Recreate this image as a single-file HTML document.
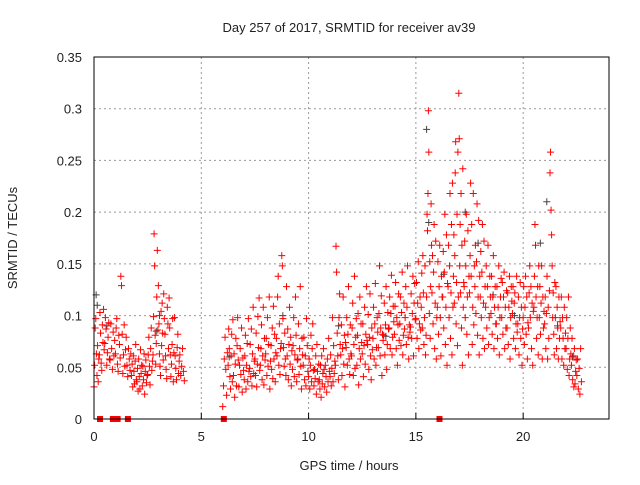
<!DOCTYPE html>
<html><head><meta charset="utf-8"><style>
body{margin:0;background:#fff;}
svg text{font-family:"Liberation Sans",sans-serif;fill:#222;}
</style></head><body>
<svg id="chart" width="640" height="480" xmlns="http://www.w3.org/2000/svg">
<rect width="640" height="480" fill="#fff"/>
<text x="349" y="32" font-size="13" text-anchor="middle">Day 257 of 2017, SRMTID for receiver av39</text>
<text x="349" y="470" font-size="13" text-anchor="middle">GPS time / hours</text>
<text x="0" y="0" font-size="13" text-anchor="middle" transform="translate(17,238) rotate(-90)">SRMTID / TECUs</text>
<g id="grid"></g><g id="ticks"></g><g id="gray"></g><g id="red"></g><g id="gaps"></g>
<rect x="94" y="57" width="515" height="362" fill="none" stroke="#000" stroke-width="1"/>
</svg>
<script>
const xTicks=[0,5,10,15,20];
const yTicks=[0,0.05,0.1,0.15,0.2,0.25,0.3,0.35];
const yTickLabels=["0","0.05","0.1","0.15","0.2","0.25","0.3","0.35"];
const binHours=[0,0.25,0.5,0.75,1,1.25,1.5,1.75,2,2.25,2.5,2.75,3,3.25,3.5,3.75,4,
6,6.25,6.5,6.75,7,7.25,7.5,7.75,8,8.25,8.5,8.75,9,9.25,9.5,9.75,10,10.25,10.5,10.75,11,11.25,11.5,11.75,12,12.25,12.5,12.75,13,13.25,13.5,13.75,14,14.25,14.5,14.75,15,15.25,15.5,15.75,16,16.25,16.5,16.75,17,17.25,17.5,17.75,18,18.25,18.5,18.75,19,19.25,19.5,19.75,20,20.25,20.5,20.75,21,21.25,21.5,21.75,22,22.25,22.5];
const binValues=[
[.031,.052,.088,.097,.063,.042,.071,.036,.058],[.062,.103,.083,.054,.047,.091,.074,.106,.067],[.073,.098,.087,.052,.064,.079,.093,.058],[.057,.092,.068,.048,.084,.061,.076],
[.063,.088,.097,.053,.046,.081,.072,.059],[.138,.129,.082,.044,.062,.091,.051,.067],[.079,.052,.041,.068,.058,.047,.063],[.042,.053,.031,.061,.046,.034,.056,.072,.038],
[.036,.049,.027,.058,.041,.029,.067,.044,.052],[.032,.051,.038,.063,.024,.046,.057,.035,.042],[.043,.062,.079,.051,.033,.068,.088,.047,.056],
[.062,.099,.179,.148,.081,.053,.073,.118,.163,.086],[.129,.092,.063,.051,.042,.104,.071,.112,.083,.057],[.121,.097,.082,.061,.048,.039,.108,.092,.068],
[.117,.088,.062,.041,.053,.072,.097,.036,.064],[.098,.061,.049,.038,.069,.082,.044,.056],[.062,.042,.051,.068,.046,.037],
[.012,.032,.058,.079,.048,.023,.064],[.052,.087,.068,.041,.029,.061,.082,.036,.096],[.042,.063,.021,.053,.078,.032,.071,.098,.057],[.031,.052,.068,.043,.088,.026,.059,.047],
[.038,.061,.081,.029,.052,.073,.036,.097,.046],[.049,.072,.041,.087,.032,.063,.108,.044,.056],[.058,.042,.083,.031,.053,.099,.069,.117,.047],[.052,.068,.091,.038,.061,.108,.033,.078,.057],
[.063,.078,.042,.098,.051,.072,.118,.029,.056],[.071,.048,.088,.039,.109,.058,.082,.036,.064],[.078,.061,.118,.138,.052,.092,.043,.068,.073],[.158,.148,.097,.069,.051,.083,.058,.042,.128],
[.061,.087,.038,.072,.108,.053,.079,.032,.066],[.048,.071,.098,.041,.062,.118,.081,.036,.057],[.058,.092,.043,.068,.128,.051,.029,.078,.062],[.052,.079,.038,.061,.032,.097,.071,.046],
[.041,.058,.029,.052,.081,.036,.068,.092,.047],[.032,.048,.039,.061,.024,.072,.046,.036,.053],[.038,.029,.052,.021,.061,.034,.044,.068,.048],[.031,.052,.041,.026,.058,.036,.078,.046],
[.041,.062,.032,.049,.098,.036,.071,.044,.056],[.052,.167,.142,.083,.061,.038,.098,.121,.072],[.062,.091,.042,.068,.118,.053,.081,.031,.074],[.069,.098,.052,.082,.128,.058,.043,.091,.063],
[.061,.088,.112,.042,.072,.138,.049,.079,.097],[.052,.081,.102,.033,.068,.118,.058,.092,.074],[.063,.092,.041,.071,.108,.053,.082,.128,.076],[.072,.101,.048,.079,.121,.061,.038,.088,.067],
[.078,.108,.058,.092,.131,.052,.069,.098,.084],[.069,.102,.148,.061,.088,.119,.042,.082,.076],[.081,.112,.062,.091,.128,.048,.072,.103,.087],[.088,.118,.068,.102,.139,.062,.079,.109,.094],
[.082,.109,.132,.068,.098,.052,.091,.121,.076],[.092,.118,.071,.103,.142,.062,.081,.112,.087],[.098,.128,.072,.108,.148,.079,.058,.091,.084],[.089,.121,.078,.102,.138,.061,.112,.131,.096],
[.097,.132,.078,.112,.152,.068,.092,.118,.086],[.108,.141,.088,.158,.122,.072,.098,.148,.062,.081],[.118,.198,.182,.218,.298,.258,.102,.152,.078,.128,.208,.168],[.122,.158,.092,.142,.188,.068,.112,.172,.058,.098],
[.108,.152,.082,.128,.168,.098,.061,.138,.118],[.118,.162,.088,.142,.198,.072,.108,.178,.052,.131],[.128,.168,.098,.148,.218,.078,.122,.188,.062,.228,.108],[.138,.178,.112,.158,.238,.268,.092,.132,.198,.071,.258,.118],
[.315,.271,.148,.188,.122,.218,.088,.168,.052,.242,.108,.132],[.128,.172,.098,.148,.198,.082,.118,.182,.062,.138],[.122,.158,.228,.138,.188,.072,.108,.218,.091,.148],[.128,.168,.102,.152,.208,.081,.118,.192,.062,.138],
[.118,.162,.098,.142,.188,.078,.112,.172,.068,.128],[.108,.148,.088,.128,.168,.072,.098,.138,.118],[.102,.138,.082,.118,.158,.068,.108,.128,.092],[.092,.128,.078,.108,.148,.062,.098,.118,.136],
[.098,.132,.082,.118,.142,.068,.108,.088,.124],[.088,.122,.072,.108,.138,.058,.098,.128,.114],[.102,.128,.078,.112,.122,.068,.092,.138,.084],[.092,.118,.062,.098,.132,.078,.108,.052,.087],
[.098,.128,.072,.108,.138,.082,.118,.058,.093],[.088,.122,.148,.098,.128,.068,.112,.052,.104],[.108,.138,.188,.168,.118,.078,.098,.128,.062,.148],[.098,.128,.082,.112,.148,.058,.118,.088,.104],
[.092,.118,.068,.102,.138,.058,.108,.078,.124],[.238,.258,.202,.178,.148,.098,.122,.082,.062,.132],[.098,.128,.068,.108,.088,.058,.118,.078,.094],[.088,.118,.058,.098,.078,.052,.108,.068,.083],
[.068,.098,.048,.078,.118,.042,.058,.088,.063],[.052,.078,.038,.061,.031,.068,.034,.046,.057],[.042,.058,.029,.049,.024,.068,.036]];
const grayHours=[0.1,0.15,0.6,2.9,3.05,6.3,8.8,11.4,13.6,15.5,15.6,16.3,17.3,17.9,18.6,19.6,20.8,21.1,21.6,22.3];
const grayValues=[0.12,0.11,0.09,0.085,0.1,0.06,0.1,0.09,0.08,0.28,0.19,0.14,0.2,0.17,0.12,0.1,0.17,0.21,0.09,0.06];
const gapHours=[0.28,0.88,1.1,1.58,6.05,16.1];

const NS="http://www.w3.org/2000/svg";
const X=h=>94+h*(515/24);
const Y=v=>419-v*(362/0.35);
function mk(tag,attrs,parent){const e=document.createElementNS(NS,tag);for(const k in attrs)e.setAttribute(k,attrs[k]);document.getElementById(parent).appendChild(e);return e;}
xTicks.forEach(t=>{
  if(t>0){const g=mk('line',{x1:X(t),x2:X(t),y1:57,y2:419,stroke:'#999','stroke-dasharray':'2,3'},'grid');
  
  }
  const l=mk('text',{x:X(t),y:441,'font-size':'13','text-anchor':'middle'},'ticks');l.textContent=t;
  
  
  const tk=mk('line',{x1:X(t),x2:X(t),y1:419,y2:413,stroke:'#000'},'ticks');
  
  
});
yTicks.forEach((t,i)=>{
  if(i>0&&i<yTicks.length-1){const g=mk('line',{x1:94,x2:609,y1:Y(t),y2:Y(t),stroke:'#999','stroke-dasharray':'2,3'},'grid');
  
  }
  const l=mk('text',{x:82,y:Y(t)+5,'font-size':'13','text-anchor':'end'},'ticks');l.textContent=yTickLabels[i];
  
  
});
function plus(h,v,color,parent){
  const x=X(h),y=Y(v);
  const p=mk('path',{d:`M${x-3.5},${y}h7M${x},${y-3.5}v7`,stroke:color,'stroke-width':'1',fill:'none'},parent);
  
  
}
grayHours.forEach((h,i)=>plus(h,grayValues[i],'#444','gray'));
binHours.forEach((h,b)=>{const vs=binValues[b];vs.forEach((v,k)=>plus(h+0.25*k/vs.length,v,'#f00','red'));});
gapHours.forEach(h=>{
  const r=mk('rect',{x:X(h)-3,y:416,width:6,height:6,fill:'#f00'},'gaps');
  
  
});
</script>
</body></html>
